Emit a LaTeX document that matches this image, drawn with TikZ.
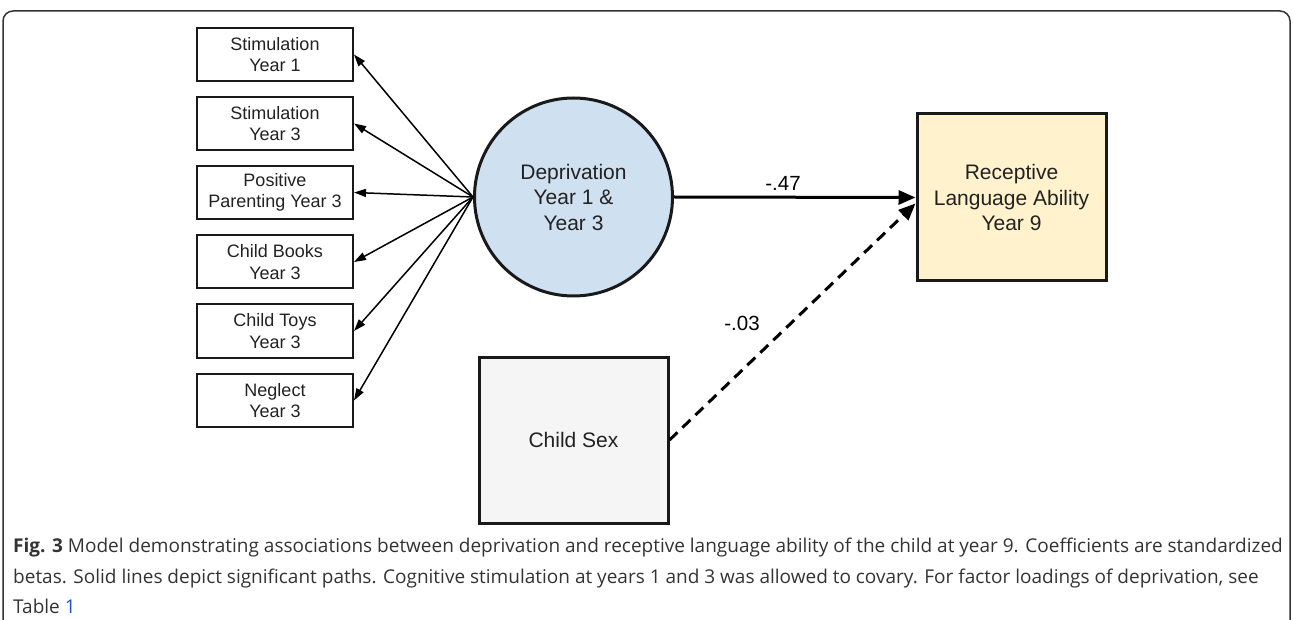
\documentclass[tikz,border=0pt]{standalone}
\usepackage{fontspec}
\setmainfont{Liberation Sans}
\newfontfamily\capfont{Open Sans}
\usetikzlibrary{arrows.meta,positioning,calc}
\definecolor{depblue}{RGB}{207,224,241}
\definecolor{recyellow}{RGB}{255,242,204}
\definecolor{sexgray}{RGB}{245,245,245}
\definecolor{txt}{RGB}{34,34,34}
\definecolor{captxt}{RGB}{51,51,51}
\definecolor{linkblue}{RGB}{30,80,200}
\begin{document}
\begin{tikzpicture}[x=1pt,y=-1pt,
  indicator/.style={draw=black!90, line width=2pt, fill=white, minimum width=156pt, minimum height=53pt, inner sep=0pt, align=center, text=txt, font=\fontsize{18}{21.5}\selectfont},
  bigbox/.style={draw=black!90, line width=3pt, minimum width=189pt, minimum height=167pt, inner sep=0pt, align=center, text=txt, font=\fontsize{21}{25.5}\selectfont},
  latent/.style={draw=black!90, circle, line width=3pt, minimum size=198pt, inner sep=0pt, align=center, fill=depblue, text=txt, font=\fontsize{21}{25.5}\selectfont},
  loading/.style={line width=1.5pt, -{Triangle[length=12pt,width=8pt]}},
  path/.style={line width=3pt, -{Triangle[length=17pt,width=14pt]}},
  coef/.style={font=\fontsize{20.5}{24}\selectfont, text=black},
  capline/.style={anchor=base west, inner sep=0pt, text=captxt, font=\capfont\fontsize{19}{22}\selectfont}
]
\useasboundingbox (0,0) rectangle (1293,620);
% frame
\draw[line width=1.5pt, draw=captxt, rounded corners=10pt] (3,630) -- (3,11) -- (1290,11) -- (1290,630);

\node[indicator] (s1) at (275,54.5) {Stimulation\\Year 1};
\node[indicator] (s2) at (275,123.5) {Stimulation\\Year 3};
\node[indicator] (s3) at (275,192.5) {Positive\\Parenting Year 3};
\node[indicator] (s4) at (275,262) {Child Books\\Year 3};
\node[indicator] (s5) at (275,331) {Child Toys\\Year 3};
\node[indicator] (s6) at (275,400.5) {Neglect\\Year 3};

\node[latent] (dep) at (573.5,197) {Deprivation\\Year 1 \&\\Year 3};
\node[bigbox, fill=recyellow] (rec) at (1011.5,197.5) {Receptive\\Language Ability\\Year 9};
\node[bigbox, fill=sexgray, minimum height=166pt] (sex) at (573.5,440) {Child Sex};

\coordinate (src) at (dep.west);
\foreach \i in {1,...,6}{
  \draw[loading] (src) -- (s\i.east);
}

\draw[path] (dep.east) -- (rec.west);
\draw[path, dash pattern=on 11pt off 7pt] (sex.east) -- ([yshift=-6pt]rec.west);

\node[coef] (c1) at (783,183) {-.47};
\node[coef] (c2) at (742,323) {-.03};

% caption
\node[capline] (cap1) at (13,552) {\textbf{Fig. 3} Model demonstrating associations between deprivation and receptive language ability of the child at year 9. Coefficients are standardized};
\node[capline] (cap2) at (13,583) {betas. Solid lines depict significant paths. Cognitive stimulation at years 1 and 3 was allowed to covary. For factor loadings of deprivation, see};
\node[capline] (cap3) at (13,613) {Table \textcolor{linkblue}{1}};
\end{tikzpicture}
\end{document}
